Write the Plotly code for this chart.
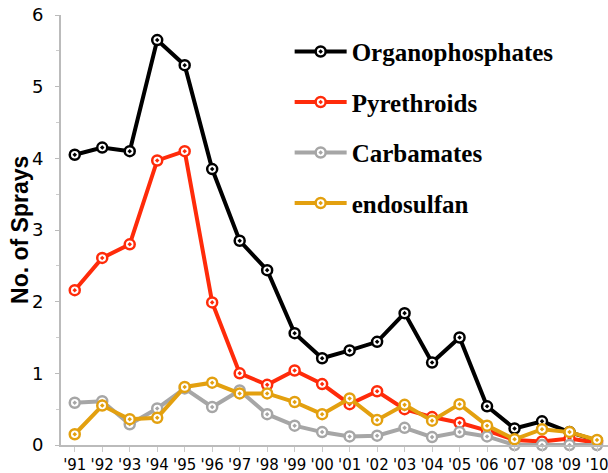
import plotly.graph_objects as go

years = ["'91", "'92", "'93", "'94", "'95", "'96", "'97", "'98", "'99", "'00",
         "'01", "'02", "'03", "'04", "'05", "'06", "'07", "'08", "'09", "'10"]

organophosphates = [4.05, 4.15, 4.1, 5.65, 5.3, 3.85, 2.85, 2.44, 1.56, 1.21,
                    1.32, 1.44, 1.84, 1.15, 1.5, 0.54, 0.23, 0.33, 0.18, 0.06]
pyrethroids = [2.16, 2.61, 2.8, 3.97, 4.1, 1.99, 1.0, 0.84, 1.04, 0.85,
               0.57, 0.75, 0.5, 0.39, 0.31, 0.2, 0.07, 0.05, 0.09, 0.03]
carbamates = [0.59, 0.61, 0.29, 0.51, 0.79, 0.53, 0.76, 0.43, 0.27, 0.18,
              0.12, 0.13, 0.24, 0.11, 0.18, 0.12, 0.0, 0.0, 0.0, 0.0]
endosulfan = [0.15, 0.55, 0.36, 0.38, 0.81, 0.87, 0.72, 0.72, 0.6, 0.43,
              0.65, 0.35, 0.56, 0.34, 0.57, 0.27, 0.08, 0.22, 0.18, 0.07]

series = [
    ("Organophosphates", organophosphates, "#000000"),
    ("Pyrethroids", pyrethroids, "#FF2B0A"),
    ("Carbamates", carbamates, "#A6A6A6"),
    ("endosulfan", endosulfan, "#E3A00F"),
]

fig = go.Figure()
for name, vals, col in series:
    fig.add_trace(go.Scatter(
        x=years, y=vals, name=name, mode="lines+markers",
        legendgroup=name, cliponaxis=False,
        line=dict(color=col, width=4),
        marker=dict(symbol="circle-dot", size=10, color="white",
                    line=dict(color=col, width=2.5)),
    ))

fig.update_layout(
    width=608, height=473,
    margin=dict(l=61, r=0, t=15, b=28),
    plot_bgcolor="white", paper_bgcolor="white",
    showlegend=True,
    legend=dict(x=0.418, y=0.968, xanchor="left", yanchor="top",
                traceorder="grouped", tracegroupgap=15, itemwidth=52,
                font=dict(family="Liberation Serif", size=25, color="black", weight="bold"),
                bgcolor="rgba(0,0,0,0)"),
    xaxis=dict(type="category", range=[-0.5, 19.4], showgrid=False,
               showline=True, linecolor="#BBBBBB", linewidth=2,
               ticks="outside", ticklen=5, tickcolor="#CCCCCC", tickwidth=1,
               tickfont=dict(family="DejaVu Sans", size=15, color="black"),
               automargin=False, zeroline=False),
    yaxis=dict(range=[0, 6], dtick=1, showgrid=False,
               showline=True, linecolor="#BBBBBB", linewidth=2,
               ticks="outside", ticklen=4, tickcolor="#BBBBBB", tickwidth=1,
               minor=dict(dtick=0.5, ticks="outside", ticklen=3, tickcolor="#CCCCCC"),
               tickfont=dict(family="DejaVu Sans", size=18, color="black"),
               ticklabelstandoff=8,
               automargin=False, zeroline=False),
    annotations=[dict(text="No. of Sprays", xref="paper", yref="paper",
                      x=-0.075, y=0.5, textangle=-90, showarrow=False,
                      xanchor="center", yanchor="middle",
                      font=dict(family="Liberation Sans", size=23, color="black", weight="bold"))],
)

fig.write_html("out.html", config={"displayModeBar": False},
               post_script="document.body.style.margin='0';document.body.style.overflow='hidden';")
